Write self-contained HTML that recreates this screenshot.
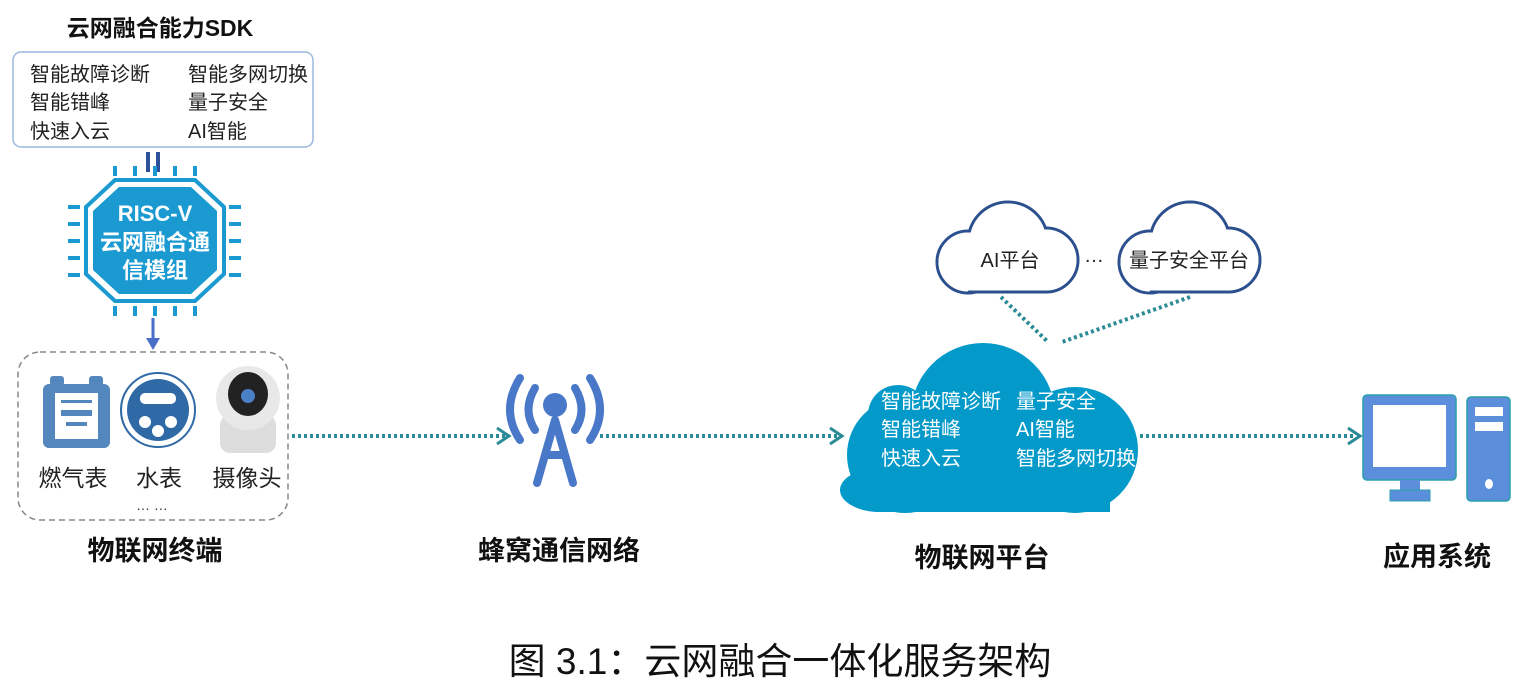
<!DOCTYPE html>
<html><head><meta charset="utf-8"><style>
body{margin:0;background:#fff;}
svg{display:block}
text{font-family:"Liberation Sans","Noto Sans CJK SC",sans-serif;}
</style></head><body>
<svg width="1527" height="694" viewBox="0 0 1527 694" xmlns="http://www.w3.org/2000/svg">
<!-- SDK -->
<text x="160" y="36" font-size="23" font-weight="bold" text-anchor="middle" fill="#111">云网融合能力SDK</text>
<rect x="13" y="52" width="300" height="95" rx="8" fill="#fff" stroke="#9ab8de" stroke-width="1.5"/>
<g font-size="20" fill="#222">
<text x="30" y="81">智能故障诊断</text><text x="188" y="81">智能多网切换</text>
<text x="30" y="109">智能错峰</text><text x="188" y="109">量子安全</text>
<text x="30" y="138">快速入云</text><text x="188" y="138">AI智能</text>
</g>
<rect x="146" y="152" width="4" height="20" fill="#2e4f9a"/><rect x="156" y="152" width="4" height="20" fill="#2e4f9a"/>
<!-- chip pins -->
<g fill="#1a9ad0">
<rect x="113" y="166" width="4" height="10"/><rect x="133" y="166" width="4" height="10"/><rect x="153" y="166" width="4" height="10"/><rect x="173" y="166" width="4" height="10"/><rect x="193" y="166" width="4" height="10"/>
<rect x="113" y="306" width="4" height="10"/><rect x="133" y="306" width="4" height="10"/><rect x="153" y="306" width="4" height="10"/><rect x="173" y="306" width="4" height="10"/><rect x="193" y="306" width="4" height="10"/>
<rect x="68" y="205" width="12" height="4"/><rect x="68" y="222" width="12" height="4"/><rect x="68" y="239" width="12" height="4"/><rect x="68" y="256" width="12" height="4"/><rect x="68" y="273" width="12" height="4"/>
<rect x="229" y="205" width="12" height="4"/><rect x="229" y="222" width="12" height="4"/><rect x="229" y="239" width="12" height="4"/><rect x="229" y="256" width="12" height="4"/><rect x="229" y="273" width="12" height="4"/>
</g>
<polygon points="115,180 195,180 224,207 224,274 195,301 115,301 86,274 86,207" fill="#fff" stroke="#1a9ad0" stroke-width="4"/>
<polygon points="119,187 191,187 217,211 217,270 191,294 119,294 93,270 93,211" fill="#1a9ad0"/>
<g fill="#fff" font-size="22" font-weight="bold" text-anchor="middle">
<text x="155" y="221">RISC-V</text><text x="155" y="250">云网融合通</text><text x="155" y="278">信模组</text>
</g>
<line x1="153" y1="318" x2="153" y2="340" stroke="#4a6fc8" stroke-width="3"/>
<polygon points="146,338 160,338 153,350" fill="#4a6fc8"/>
<!-- terminal box -->
<rect x="18" y="352" width="270" height="168" rx="22" fill="none" stroke="#888" stroke-width="1.5" stroke-dasharray="6,4"/>
<rect x="43" y="384" width="67" height="64" rx="6" fill="#5487bd"/>
<rect x="50" y="376" width="14" height="10" rx="3" fill="#5487bd"/><rect x="89" y="376" width="14" height="10" rx="3" fill="#5487bd"/>
<rect x="55" y="393" width="43" height="46" fill="#fff"/>
<rect x="61" y="400" width="31" height="3" fill="#5487bd"/><rect x="61" y="410" width="31" height="6" fill="#5487bd"/><rect x="66" y="422" width="21" height="4" fill="#5487bd"/>
<circle cx="158" cy="410" r="37" fill="#fff" stroke="#2f6aa6" stroke-width="2"/>
<circle cx="158" cy="410" r="31" fill="#2f6aa6"/>
<rect x="140" y="393" width="36" height="11" rx="5" fill="#fff"/>
<circle cx="145" cy="422" r="6" fill="#fff"/><circle cx="171" cy="422" r="6" fill="#fff"/><circle cx="158" cy="431" r="6" fill="#fff"/>
<rect x="220" y="415" width="56" height="38" rx="10" fill="#ddd"/>
<circle cx="248" cy="398" r="32" fill="#e8e8e8"/>
<ellipse cx="248" cy="394" rx="20" ry="22" fill="#222"/>
<circle cx="248" cy="396" r="7" fill="#4b7fc6"/>
<g font-size="23" fill="#222" text-anchor="middle">
<text x="73" y="486">燃气表</text><text x="159" y="486">水表</text><text x="247" y="486">摄像头</text>
</g>
<text x="152" y="510" font-size="14" text-anchor="middle" fill="#333">… …</text>
<g font-size="27" font-weight="bold" fill="#111" text-anchor="middle">
<text x="155" y="560">物联网终端</text><text x="559" y="560">蜂窝通信网络</text><text x="982" y="567">物联网平台</text><text x="1437" y="566">应用系统</text>
</g>
<!-- dotted connectors -->
<g stroke="#2a8a95" stroke-width="4" stroke-dasharray="3,3" fill="none">
<line x1="292" y1="436" x2="505" y2="436"/><line x1="600" y1="436" x2="838" y2="436"/><line x1="1140" y1="436" x2="1355" y2="436"/>
<line x1="1001" y1="297" x2="1048" y2="342"/><line x1="1190" y1="297" x2="1062" y2="342"/>
</g>
<g stroke="#2a8a95" stroke-width="3" fill="none">
<polyline points="497,428 509,436 497,444"/><polyline points="830,428 842,436 830,444"/><polyline points="1348,428 1360,436 1348,444"/>
</g>
<!-- antenna -->
<g stroke="#4a78c8" stroke-width="8" fill="none" stroke-linecap="round">
<path d="M520 378 Q500 410 520 440"/><path d="M535 388 Q522 410 535 430"/>
<path d="M590 378 Q610 410 590 440"/><path d="M575 388 Q588 410 575 430"/>
<path d="M555 420 L537 483 M555 420 L573 483 M545 455 L565 455"/>
</g>
<circle cx="555" cy="405" r="12" fill="#4a78c8"/>
<!-- big cloud -->
<g fill="#0399c9">
<circle cx="983" cy="415" r="72"/><circle cx="1075" cy="450" r="63"/><circle cx="905" cy="455" r="58"/><circle cx="898" cy="415" r="30"/>
<rect x="880" y="440" width="230" height="72"/>
<ellipse cx="880" cy="490" rx="40" ry="22"/>
</g>
<g fill="#fff" font-size="20">
<text x="881" y="408">智能故障诊断</text><text x="1016" y="408">量子安全</text>
<text x="881" y="436">智能错峰</text><text x="1016" y="436">AI智能</text>
<text x="881" y="465">快速入云</text><text x="1016" y="465">智能多网切换</text>
</g>
<!-- small clouds -->
<g stroke="#2c4f8e" stroke-width="3" fill="#fff">
<circle cx="1008" cy="242" r="40"/><circle cx="968" cy="262" r="31"/><circle cx="1046" cy="260" r="32"/>
<circle cx="1190" cy="242" r="40"/><circle cx="1150" cy="262" r="31"/><circle cx="1228" cy="260" r="32"/>
</g>
<g fill="#fff">
<circle cx="1008" cy="242" r="38.5"/><circle cx="968" cy="262" r="29.5"/><circle cx="1046" cy="260" r="30.5"/><rect x="968" y="250" width="78" height="41"/>
<circle cx="1190" cy="242" r="38.5"/><circle cx="1150" cy="262" r="29.5"/><circle cx="1228" cy="260" r="30.5"/><rect x="1150" y="250" width="78" height="41"/>
</g>
<g stroke="#2c4f8e" stroke-width="3"><line x1="968" y1="292" x2="1046" y2="292"/><line x1="1150" y1="292" x2="1228" y2="292"/></g>
<g font-size="20" fill="#222" text-anchor="middle">
<text x="1010" y="267">AI平台</text><text x="1189" y="267">量子安全平台</text><text x="1094" y="262">…</text>
</g>
<!-- computer -->
<rect x="1363" y="395" width="93" height="85" rx="4" fill="#5b8fdc" stroke="#2aa0a8" stroke-width="1.5"/>
<rect x="1373" y="405" width="73" height="62" fill="#fff"/>
<rect x="1400" y="480" width="20" height="12" fill="#5b8fdc"/><rect x="1390" y="490" width="40" height="11" fill="#5b8fdc" stroke="#2aa0a8"/>
<rect x="1467" y="397" width="43" height="104" rx="4" fill="#5b8fdc" stroke="#2aa0a8" stroke-width="1.5"/>
<rect x="1475" y="407" width="28" height="9" fill="#fff"/><rect x="1475" y="422" width="28" height="9" fill="#fff"/>
<ellipse cx="1489" cy="484" rx="4" ry="5" fill="#fff"/>
<!-- caption -->
<text x="780" y="674" font-size="37" text-anchor="middle" fill="#111" font-family="'Liberation Serif','Noto Serif CJK SC',serif">图 3.1：云网融合一体化服务架构</text>
</svg>
</body></html>
